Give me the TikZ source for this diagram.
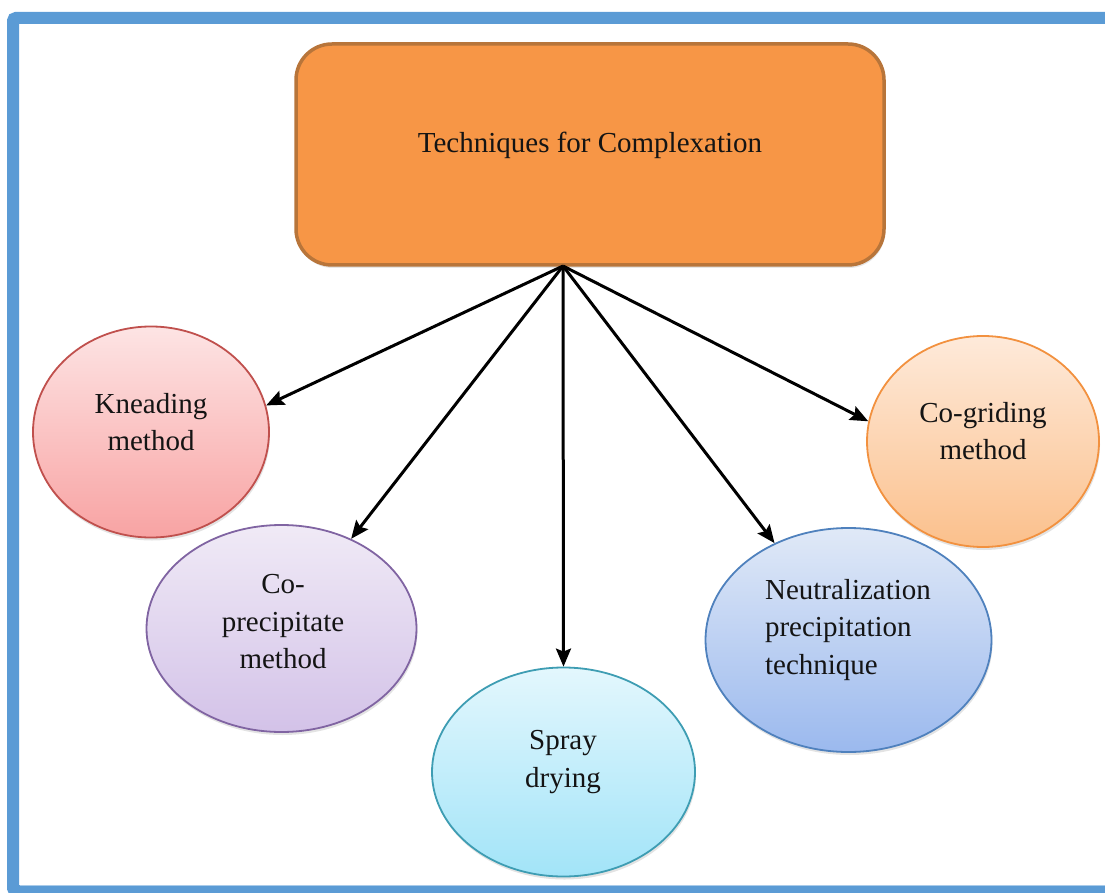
\documentclass[tikz,border=0pt]{standalone}
\usepackage{fontspec}
\setmainfont{Liberation Serif}
\usetikzlibrary{shapes.geometric,arrows.meta,shadows}

\definecolor{framblue}{HTML}{5B9BD5}
\definecolor{framlight}{HTML}{A9CBEA}
\definecolor{boxfill}{HTML}{F79646}
\definecolor{boxedge}{HTML}{B8753A}
\definecolor{txt}{HTML}{141414}
\definecolor{kneadedge}{HTML}{C0504D}
\definecolor{kneadtop}{HTML}{FDE4E4}
\definecolor{kneadbot}{HTML}{F8A3A3}
\definecolor{coprecedge}{HTML}{8064A2}
\definecolor{coprectop}{HTML}{F0EAF6}
\definecolor{coprecbot}{HTML}{D3C2E8}
\definecolor{sprayedge}{HTML}{3E9DB3}
\definecolor{spraytop}{HTML}{E3F7FD}
\definecolor{spraybot}{HTML}{A2E4F8}
\definecolor{neutedge}{HTML}{4F81BD}
\definecolor{neuttop}{HTML}{E0E9F7}
\definecolor{neutbot}{HTML}{9BB9EE}
\definecolor{gridedge}{HTML}{F2913F}
\definecolor{gridtop}{HTML}{FEEADA}
\definecolor{gridbot}{HTML}{FBC08C}

\tikzset{
  bigfont/.style={font=\fontsize{29}{37.5}\selectfont, text=txt},
  oval/.style={ellipse, inner sep=0pt, line width=1.8pt,
    drop shadow={opacity=0.22, shadow xshift=1pt, shadow yshift=-3pt}},
  label text/.style={bigfont, align=center, inner sep=0pt},
  spoke/.style={line width=3pt, black,
    -{Stealth[length=18pt,width=15pt,inset=3pt]}},
}

\begin{document}
\begin{tikzpicture}[x=1pt, y=-1pt]
  \useasboundingbox (0,0) rectangle (1105,893);

  % outer blue frame (right side runs off the page)
  \draw[framblue, line width=12pt, rounded corners=3pt]
    (1125,18) -- (13,18) -- (13,891) -- (1125,891);
  \draw[framlight, line width=1pt] (19.5,885) -- (1105,885);

  % root box
  \node[draw=boxedge, fill=boxfill, line width=3.5pt, rounded corners=36pt,
        minimum width=588pt, minimum height=221pt, inner sep=0pt,
        drop shadow={opacity=0.2, shadow xshift=1pt, shadow yshift=-3pt}]
    (root) at (590,154.5) {};
  \node[bigfont, inner sep=0pt] (roottxt) at (590,145) {Techniques for Complexation};
  \coordinate (hub) at (563,266);

  % technique ovals
  \node[oval, draw=kneadedge, top color=kneadtop, bottom color=kneadbot,
        minimum width=236pt, minimum height=211pt] (knead) at (151,432) {};
  \node[label text] (kneadtxt) at (151,422) {Kneading\\method};

  \node[oval, draw=coprecedge, top color=coprectop, bottom color=coprecbot,
        minimum width=270pt, minimum height=207pt] (coprec) at (281.5,628.5) {};
  \node[label text] (coprectxt) at (283,622) {Co-\\precipitate\\method};

  \node[oval, draw=sprayedge, top color=spraytop, bottom color=spraybot,
        minimum width=263pt, minimum height=209pt] (spray) at (563.5,772) {};
  \node[label text] (spraytxt) at (563,762) {Spray\\drying};

  \node[oval, draw=neutedge, top color=neuttop, bottom color=neutbot,
        minimum width=286pt, minimum height=224pt] (neutral) at (848.5,640) {};
  \node[bigfont, align=left, inner sep=0pt] (neutraltxt) at (848,630)
    {Neutralization\\precipitation\\technique};

  \node[oval, draw=gridedge, top color=gridtop, bottom color=gridbot,
        minimum width=232pt, minimum height=211pt] (cogrid) at (983,441.5) {};
  \node[label text] (cogridtxt) at (983,431) {Co-griding\\method};

  % connectors from the root box
  \draw[spoke] (hub) -- (knead.13);
  \draw[spoke] (hub) -- (coprec);
  \draw[spoke] (hub) -- (spray.north);
  \draw[spoke] (hub) -- (neutral);
  \draw[spoke] (hub) -- (cogrid.170);
\end{tikzpicture}
\end{document}
